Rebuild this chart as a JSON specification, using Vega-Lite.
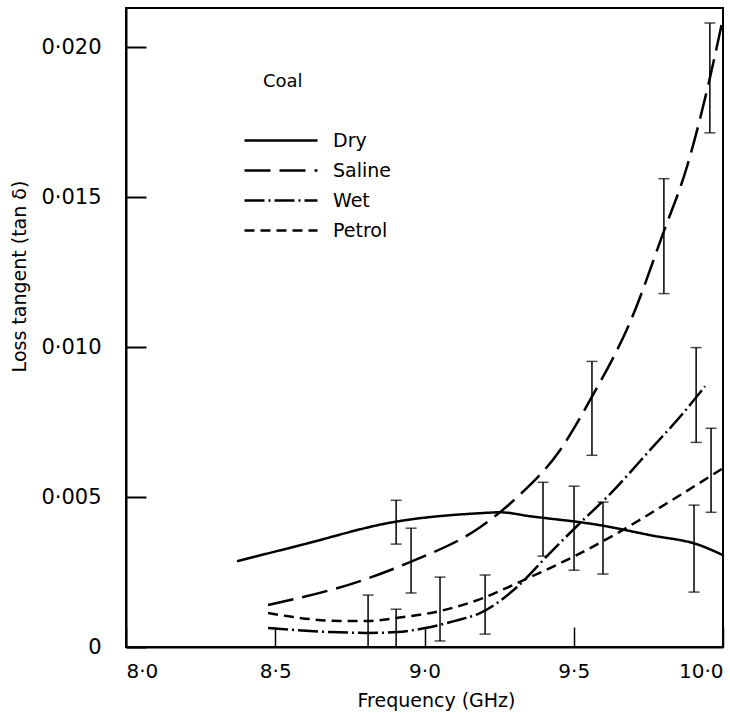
{
  "$schema": "https://vega.github.io/schema/vega-lite/v6.json",
  "width": 597,
  "height": 639,
  "autosize": "none",
  "padding": {"left": 126, "top": 8, "right": 7, "bottom": 66},
  "background": "white",
  "config": {
    "font": "DejaVu Sans",
    "view": {"stroke": "black", "strokeWidth": 2},
    "axis": {
      "grid": false,
      "domainColor": "black",
      "domainWidth": 2,
      "tickColor": "black",
      "tickWidth": 1.5,
      "tickSize": -20,
      "labelColor": "black",
      "titleColor": "black",
      "titleFontWeight": "normal"
    }
  },
  "datasets": {
    "curves": [
      {"series": "Dry", "f": 8.372, "tan": 0.00286},
      {"series": "Dry", "f": 8.583, "tan": 0.00339},
      {"series": "Dry", "f": 8.894, "tan": 0.00416},
      {"series": "Dry", "f": 9.186, "tan": 0.00446},
      {"series": "Dry", "f": 9.253, "tan": 0.00449},
      {"series": "Dry", "f": 9.353, "tan": 0.00436},
      {"series": "Dry", "f": 9.588, "tan": 0.00406},
      {"series": "Dry", "f": 9.755, "tan": 0.00373},
      {"series": "Dry", "f": 9.923, "tan": 0.00339},
      {"series": "Dry", "f": 10.0, "tan": 0.00306},
      {"series": "Saline", "f": 8.476, "tan": 0.0014},
      {"series": "Saline", "f": 8.794, "tan": 0.00223},
      {"series": "Saline", "f": 8.951, "tan": 0.00283},
      {"series": "Saline", "f": 9.186, "tan": 0.00399},
      {"series": "Saline", "f": 9.31, "tan": 0.00499},
      {"series": "Saline", "f": 9.454, "tan": 0.00656},
      {"series": "Saline", "f": 9.554, "tan": 0.00822},
      {"series": "Saline", "f": 9.698, "tan": 0.01105},
      {"series": "Saline", "f": 9.799, "tan": 0.01378},
      {"series": "Saline", "f": 9.879, "tan": 0.016},
      {"series": "Saline", "f": 9.946, "tan": 0.01854},
      {"series": "Saline", "f": 10.0, "tan": 0.02096},
      {"series": "Wet", "f": 8.476, "tan": 0.00063},
      {"series": "Wet", "f": 8.683, "tan": 0.0005},
      {"series": "Wet", "f": 8.811, "tan": 0.00047},
      {"series": "Wet", "f": 8.908, "tan": 0.0005},
      {"series": "Wet", "f": 9.002, "tan": 0.00063},
      {"series": "Wet", "f": 9.102, "tan": 0.00087},
      {"series": "Wet", "f": 9.186, "tan": 0.00113},
      {"series": "Wet", "f": 9.31, "tan": 0.002},
      {"series": "Wet", "f": 9.42, "tan": 0.00313},
      {"series": "Wet", "f": 9.531, "tan": 0.00423},
      {"series": "Wet", "f": 9.611, "tan": 0.00499},
      {"series": "Wet", "f": 9.755, "tan": 0.00656},
      {"series": "Wet", "f": 9.866, "tan": 0.00779},
      {"series": "Wet", "f": 9.94, "tan": 0.00869},
      {"series": "Petrol", "f": 8.476, "tan": 0.00113},
      {"series": "Petrol", "f": 8.717, "tan": 0.00087},
      {"series": "Petrol", "f": 8.811, "tan": 0.00087},
      {"series": "Petrol", "f": 8.908, "tan": 0.00097},
      {"series": "Petrol", "f": 9.052, "tan": 0.0012},
      {"series": "Petrol", "f": 9.196, "tan": 0.00163},
      {"series": "Petrol", "f": 9.31, "tan": 0.00213},
      {"series": "Petrol", "f": 9.497, "tan": 0.003},
      {"series": "Petrol", "f": 9.645, "tan": 0.00379},
      {"series": "Petrol", "f": 9.812, "tan": 0.00479},
      {"series": "Petrol", "f": 10.0, "tan": 0.00596}
    ],
    "bars": [
      {"f": 8.905, "lo": 0.00343, "hi": 0.00489},
      {"f": 8.955, "lo": 0.0018, "hi": 0.00396},
      {"f": 8.811, "lo": 0.0, "hi": 0.00173},
      {"f": 8.905, "lo": 0.0, "hi": 0.00126},
      {"f": 9.052, "lo": 0.0002, "hi": 0.00233},
      {"f": 9.203, "lo": 0.00043, "hi": 0.0024},
      {"f": 9.397, "lo": 0.00303, "hi": 0.00549},
      {"f": 9.501, "lo": 0.00256, "hi": 0.00536},
      {"f": 9.598, "lo": 0.00243, "hi": 0.00483},
      {"f": 9.561, "lo": 0.00639, "hi": 0.00952},
      {"f": 9.91, "lo": 0.00682, "hi": 0.00998},
      {"f": 9.903, "lo": 0.00183, "hi": 0.00473},
      {"f": 9.96, "lo": 0.00449, "hi": 0.00729},
      {"f": 9.802, "lo": 0.01178, "hi": 0.01561},
      {"f": 9.956, "lo": 0.01714, "hi": 0.0208}
    ]
  },
  "encoding": {
    "x": {
      "field": "f",
      "type": "quantitative",
      "scale": {"domain": [8, 10], "nice": false, "zero": false},
      "axis": {
        "values": [8, 8.5, 9, 9.5, 10],
        "labelExpr": "replace(format(datum.value, '.1f'), '.', '·')",
        "labelFontSize": 20,
        "labelPadding": 34,
        "labelFlush": true,
        "tickSize": -20,
        "title": "Frequency (GHz)",
        "titleFontSize": 19,
        "titleX": 310,
        "titleY": 53,
        "titleBaseline": "middle"
      }
    },
    "y": {
      "field": "tan",
      "type": "quantitative",
      "scale": {"domain": [0, 0.0213], "nice": false},
      "axis": {
        "values": [0, 0.005, 0.01, 0.015, 0.02],
        "labelExpr": "datum.value == 0 ? '0' : replace(format(datum.value, '.3f'), '.', '·')",
        "labelFontSize": 21,
        "labelPadding": 45,
        "ticks": true,
        "tickSize": -20,
        "tickWidth": 2,
        "tickColor": "black",
        "zindex": 1,
        "title": "Loss tangent (tan δ)",
        "titleFontSize": 19,
        "titleX": -107,
        "titleY": 268,
        "titleAlign": "center",
        "titleBaseline": "middle"
      }
    }
  },
  "layer": [
    {
      "data": {"name": "curves"},
      "mark": {"type": "line", "color": "black", "strokeWidth": 2.5, "interpolate": "monotone"},
      "encoding": {
        "strokeDash": {
          "field": "series",
          "type": "nominal",
          "scale": {
            "domain": ["Dry", "Saline", "Wet", "Petrol"],
            "range": [[1, 0], [26, 9], [20, 4, 2, 4], [10, 6]]
          },
          "legend": {
            "title": "Coal",
            "orient": "none",
            "legendX": 137,
            "legendY": 65,
            "padding": 0,
            "symbolType": "M-3,0H4.3",
            "symbolSize": 400,
            "symbolStrokeWidth": 2.5,
            "symbolStrokeColor": "black",
            "labelOffset": 47,
            "labelFontSize": 19,
            "labelColor": "black",
            "rowPadding": 8,
            "titleFontSize": 18,
            "titleFontWeight": "normal",
            "titleColor": "black",
            "titlePadding": 38
          }
        }
      }
    },
    {
      "data": {"name": "bars"},
      "mark": {"type": "rule", "color": "black", "strokeWidth": 1.5},
      "encoding": {
        "y": {"field": "lo", "type": "quantitative"},
        "y2": {"field": "hi"}
      }
    },
    {
      "data": {"name": "bars"},
      "mark": {"type": "tick", "color": "black", "orient": "horizontal", "size": 11, "thickness": 1.5},
      "encoding": {
        "y": {"field": "lo", "type": "quantitative"}
      }
    },
    {
      "data": {"name": "bars"},
      "mark": {"type": "tick", "color": "black", "orient": "horizontal", "size": 11, "thickness": 1.5},
      "encoding": {
        "y": {"field": "hi", "type": "quantitative"}
      }
    }
  ]
}
